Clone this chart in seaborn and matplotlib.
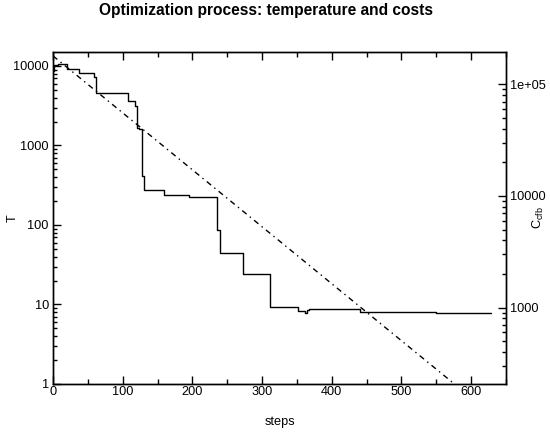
"""
Optimization process: temperature (left, log) and costs (right, log) per step
"""

import matplotlib
matplotlib.use("Agg")
import matplotlib.pyplot as plt
import matplotlib.ticker as mticker
import seaborn as sns
import numpy as np

# temperature schedule (dash-dot)
temp_steps = [0, 576]
temp_values = [13400, 1.0]

# cost of the current solution (solid step line)
cost_steps = [0, 2, 7, 20, 37, 59, 62, 108, 117, 121, 124, 128, 130, 159, 195,
              236, 239, 272, 312, 352, 361, 364, 368, 441, 549, 629]
cost_values = [131500, 149000, 152000, 137000, 126000, 116000, 83600, 70800,
               64000, 40700, 39800, 15100, 11200, 10200, 9800, 4960, 3100, 2000,
               1015, 934, 895, 953, 967, 915, 895, 895]

t_ticks = [1, 10, 100, 1000, 10000]
t_labels = ["1", "10", "100", "1000", "10000"]
c_ticks = [1000, 10000, 100000]
c_labels = ["1000", "10000", "1e+05"]

sns.set_style("ticks")
plt.rcParams["font.family"] = ["Liberation Sans", "DejaVu Sans"]
plt.rcParams["axes.linewidth"] = 1.0
plt.rcParams["text.color"] = "black"
plt.rcParams["axes.labelcolor"] = "black"
plt.rcParams["xtick.color"] = "black"
plt.rcParams["ytick.color"] = "black"
plt.rcParams["axes.edgecolor"] = "black"

fig, ax = plt.subplots(figsize=(5.5, 4.32), dpi=100)
fig.subplots_adjust(left=53 / 550, right=506 / 550,
                    bottom=(432 - 384) / 432, top=(432 - 52) / 432)

sns.lineplot(x=temp_steps, y=temp_values, ax=ax, color="black", lw=1.0,
             linestyle=(0, (4, 3, 1, 3)), estimator=None, sort=False)
ax.set_yscale("log")
ax.set_xlim(0, 650)
ax.set_ylim(1, 15000)

ax2 = ax.twinx()
sns.lineplot(x=cost_steps, y=cost_values, ax=ax2, color="black", lw=1.0,
             drawstyle="steps-post", estimator=None, sort=False)
ax2.set_yscale("log")
ax2.set_ylim(207, 194500)
ax2.set_xlim(0, 650)

# ticks
ax.xaxis.set_major_locator(mticker.MultipleLocator(100))
ax.xaxis.set_minor_locator(mticker.MultipleLocator(50))
ax.set_yticks(t_ticks)
ax.set_yticklabels(t_labels)
ax.yaxis.set_minor_locator(mticker.LogLocator(subs=np.arange(2, 10)))
ax.yaxis.set_minor_formatter(mticker.NullFormatter())
ax2.set_yticks(c_ticks)
ax2.set_yticklabels(c_labels)
ax2.yaxis.set_minor_locator(mticker.LogLocator(subs=np.arange(2, 10)))
ax2.yaxis.set_minor_formatter(mticker.NullFormatter())

ax.tick_params(axis="both", which="both", direction="in", top=True, right=False,
               labelsize=9.2, width=1.0, color="black", labelcolor="black")
ax.tick_params(axis="x", which="major", length=6, pad=1.5)
ax.tick_params(axis="x", which="minor", length=3.5)
ax.tick_params(axis="y", which="major", length=5.5, pad=3)
ax.tick_params(axis="y", which="minor", length=3)
ax2.tick_params(axis="y", which="both", direction="in", labelsize=9.2,
                width=1.0, color="black", labelcolor="black")
ax2.tick_params(axis="y", which="major", length=5.5, pad=3)
ax2.tick_params(axis="y", which="minor", length=3)

for a in (ax, ax2):
    for s in a.spines.values():
        s.set_visible(True)
        s.set_color("black")
        s.set_linewidth(1.0)

ax.set_xlabel("steps", fontsize=9.2, color="black")
ax.set_ylabel("T", fontsize=9.2, color="black")
ax2.set_ylabel(r"C$_\mathregular{cfb}$", fontsize=9.2, color="black")
ax.xaxis.set_label_coords(0.5, -0.096)
ax.yaxis.set_label_coords(-0.075, 0.5)
ax2.yaxis.set_label_coords(1.056, 0.5)

fig.text(266 / 550, 1 - 11 / 432, "Optimization process: temperature and costs",
         ha="center", va="center", fontsize=11.2, fontweight="bold",
         color="black")

plt.savefig("out.png", dpi=100)
